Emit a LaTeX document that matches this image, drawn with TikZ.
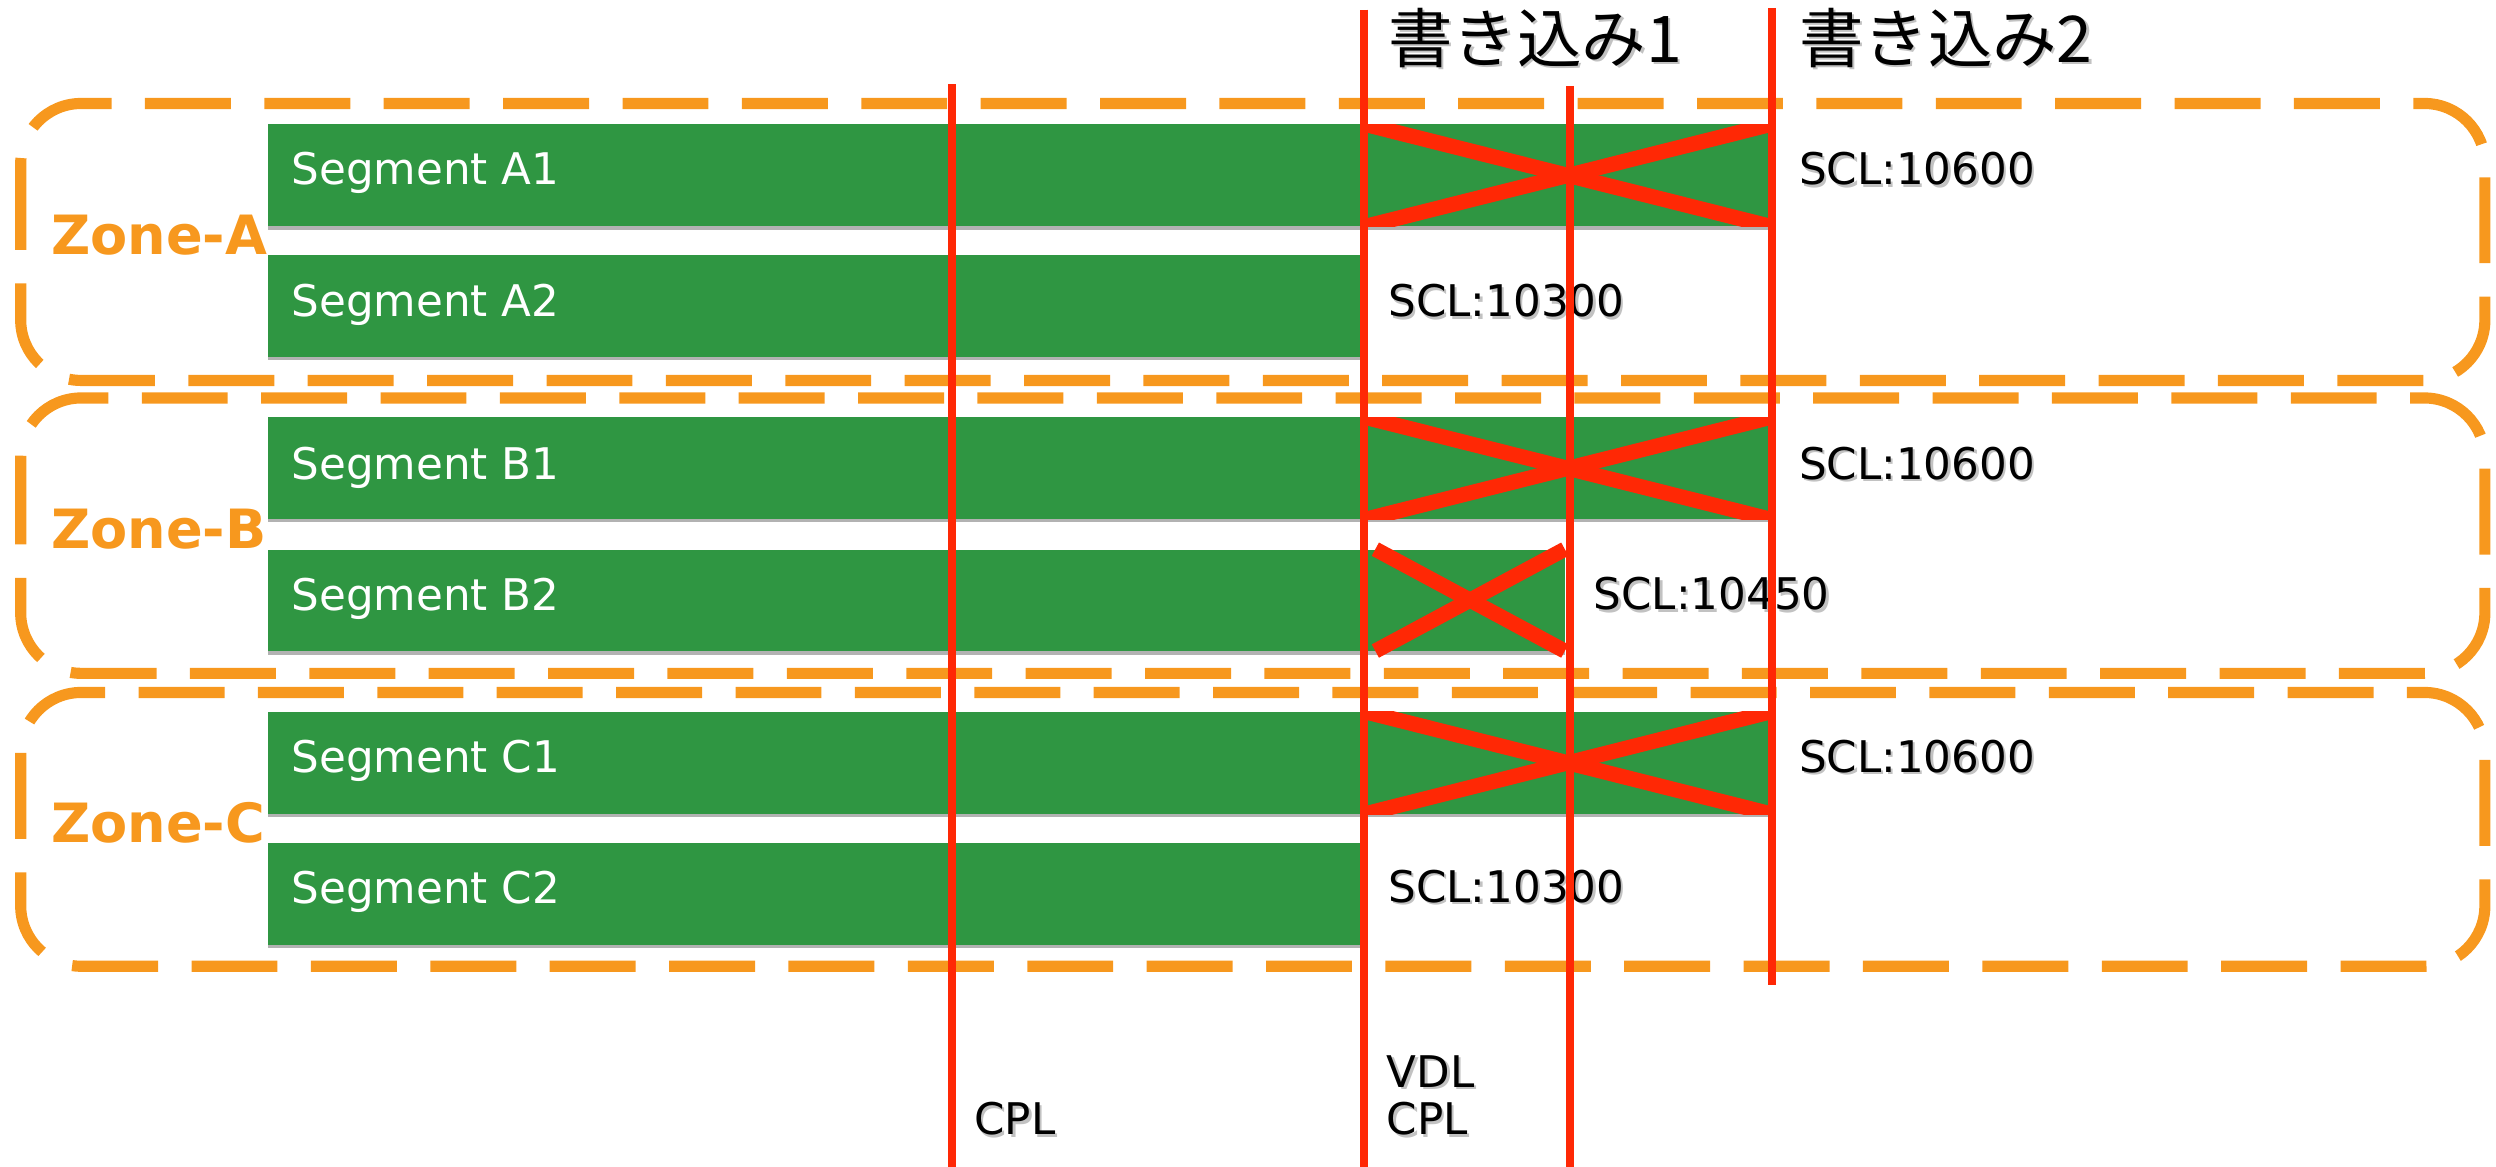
\documentclass[tikz,border=0pt]{standalone}
\usepackage{fontspec}
\setmainfont{DejaVu Sans}
\newfontfamily\cjk{Noto Sans CJK JP}
\usetikzlibrary{shadows}
\definecolor{zoneor}{RGB}{247,152,30}
\definecolor{seggreen}{RGB}{47,150,66}
\definecolor{redl}{RGB}{255,40,5}
\newcommand\blabel[3]{%
  \node[lbl, text=black!60, opacity=.4, xshift=1.5pt, yshift=-1.5pt] at #2 {#3};
  \node[lbl] (#1) at #2 {#3};}
\begin{document}
\begin{tikzpicture}[x=1pt,y=-1pt,
  zone/.style={draw=zoneor, line width=7pt, dash pattern=on 54pt off 21pt, rounded corners=38pt},
  seg/.style={fill=seggreen, draw=none, anchor=north west, inner sep=0pt, minimum height=64pt,
    drop shadow={shadow xshift=0pt, shadow yshift=-2pt, opacity=.3, fill=black}},
  segtxt/.style={anchor=base west, inner sep=0pt, text=white, font=\fontsize{27.4}{30}\selectfont},
  lbl/.style={anchor=base west, inner sep=0pt, text=black, font=\fontsize{27.4}{30}\selectfont},
  cjklbl/.style={anchor=base west, inner sep=0pt, text=black, font=\cjk\fontsize{40.5}{44}\selectfont},
  zonetxt/.style={anchor=base west, inner sep=0pt, text=zoneor, font=\bfseries\fontsize{34}{38}\selectfont},
  vline/.style={draw=redl, line width=5pt},
  xline/.style={draw=redl, line width=9.5pt},
]
\useasboundingbox (0,0) rectangle (1568,733);

% zones
\draw[zone] (13,65) rectangle (1561,239);
\draw[zone] (13,250) rectangle (1561,423);
\draw[zone] (13,435) rectangle (1561,607);

% segments
\node[seg, minimum width=944pt] (A1) at (168,78) {};
\node[seg, minimum width=687pt] (A2) at (168,160) {};
\node[seg, minimum width=944pt] (B1) at (168,262) {};
\node[seg, minimum width=815pt] (B2) at (168,345) {};
\node[seg, minimum width=944pt] (C1) at (168,447) {};
\node[seg, minimum width=687pt] (C2) at (168,529.5) {};

% line positions
\coordinate (L0t) at (598,53);   \coordinate (L0b) at (598,733);
\coordinate (L1t) at (857,6);    \coordinate (L1b) at (857,733);
\coordinate (L2t) at (986,54);   \coordinate (L2b) at (986,733);
\coordinate (L3t) at (1113,5);   \coordinate (L3b) at (1113,619);

% crosses
\foreach \s in {A1,B1,C1}{
  \begin{scope}
    \clip (\s.north -| L1t) rectangle (\s.south -| L3t);
    \draw[xline] (\s.north -| L1t) -- (\s.south -| L3t);
    \draw[xline] (\s.south -| L1t) -- (\s.north -| L3t);
  \end{scope}
}
\coordinate (B2a) at (864,345);
\coordinate (B2b) at (983,409);
\draw[xline] (B2a) -- (B2b);
\draw[xline] (B2a |- B2b) -- (B2b |- B2a);

% segment labels
\node[segtxt] (tA1) at (183,116) {Segment A1};
\node[segtxt] (tA2) at (183,199) {Segment A2};
\node[segtxt] (tB1) at (183,301) {Segment B1};
\node[segtxt] (tB2) at (183,383.5) {Segment B2};
\node[segtxt] (tC1) at (183,485) {Segment C1};
\node[segtxt] (tC2) at (183,567.5) {Segment C2};

% zone labels
\node[zonetxt] (zA) at (32,160) {Zone-A};
\node[zonetxt] (zB) at (32,344.5) {Zone-B};
\node[zonetxt] (zC) at (32,529) {Zone-C};

% SCL labels
\blabel{sA1}{(1130,116)}{SCL:10600}
\blabel{sA2}{(872,199)}{SCL:10300}
\blabel{sB1}{(1130,301)}{SCL:10600}
\blabel{sB2}{(1001,383)}{SCL:10450}
\blabel{sC1}{(1130,485)}{SCL:10600}
\blabel{sC2}{(872,567)}{SCL:10300}

% bottom labels
\blabel{cpl0}{(612,713)}{CPL}
\blabel{vdl}{(871,683)}{VDL}
\blabel{cpl1}{(871,713)}{CPL}

% top labels
\node[cjklbl, text=black!60, opacity=.4, xshift=1.5pt, yshift=-1.5pt] at (872,39) {書き込み1};
\node[cjklbl] (w1) at (872,39) {書き込み1};
\node[cjklbl, text=black!60, opacity=.4, xshift=1.5pt, yshift=-1.5pt] at (1130,39) {書き込み2};
\node[cjklbl] (w2) at (1130,39) {書き込み2};

% vertical lines
\draw[vline] (L0t) -- (L0b);
\draw[vline] (L1t) -- (L1b);
\draw[vline] (L2t) -- (L2b);
\draw[vline] (L3t) -- (L3b);
\end{tikzpicture}
\end{document}
